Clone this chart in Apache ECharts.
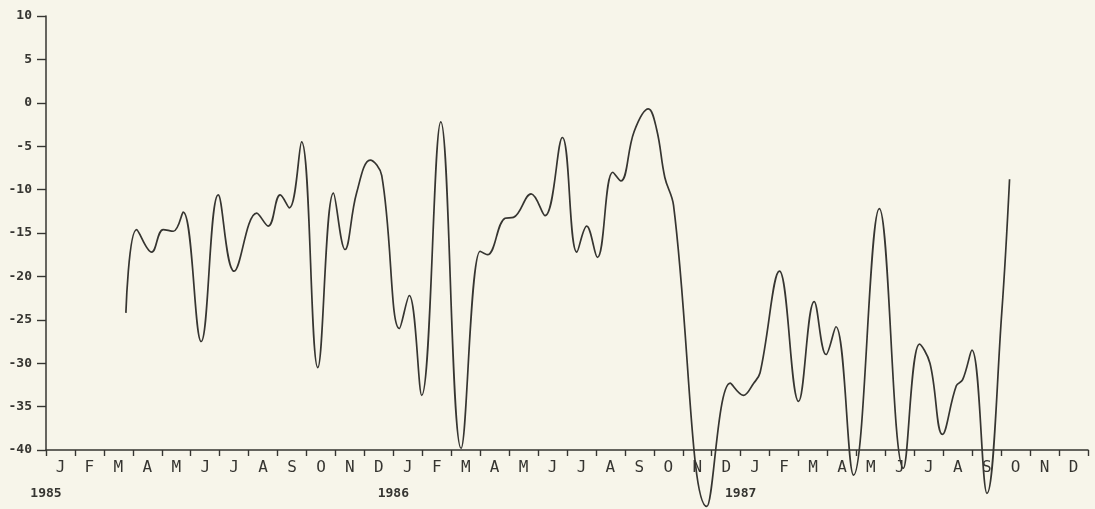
<!DOCTYPE html>
<html>
<head>
<meta charset="utf-8">
<script src="https://cdn.jsdelivr.net/npm/echarts@6/dist/echarts.min.js"></script>
<style>
html,body{margin:0;padding:0;background:#f7f5ea;}
#chart{width:1095px;height:509px;}
</style>
</head>
<body>
<div id="chart"></div>
<script>
// Month letters (one per month, Jan 1985 .. Dec 1987)
const monthLetters = ['J','F','M','A','M','J','J','A','S','O','N','D'];
const yearLabels = ['1985', '1986', '1987'];
const yTickValues = [-40, -35, -30, -25, -20, -15, -10, -5, 0, 5, 10];

// Curve points: time position in months since Jan 1985, and value
const monthPos = [
  2.76, 3.13, 3.65, 4.05, 4.40, 4.74, 5.36, 5.95, 6.50, 7.28,
  7.68, 8.09, 8.41, 8.83, 9.39, 9.93, 10.33, 10.73, 11.20, 11.60,
  12.21, 12.55, 12.98, 13.64, 14.34, 15.00, 15.25, 15.86, 16.15, 16.76,
  17.24, 17.84, 18.34, 18.68, 19.05, 19.58, 19.86, 20.32, 20.81, 21.10,
  21.38, 21.68, 22.83, 23.64, 24.09, 24.45, 24.67, 25.34, 26.00, 26.54,
  26.95, 27.29, 27.90, 28.79, 29.62, 30.18, 30.54, 30.97, 31.45, 31.67,
  31.99, 32.51, 33.02, 33.29
];
const indexValues = [
  -24.2, -14.6, -17.2, -14.6, -14.8, -12.6, -27.5, -10.6, -19.4, -12.7,
  -14.2, -10.6, -12.1, -4.5, -30.5, -10.4, -16.9, -10.4, -6.6, -8.4,
  -26.0, -22.2, -33.7, -2.2, -39.8, -17.1, -17.5, -13.3, -13.2, -10.5,
  -13.0, -4.0, -17.2, -14.2, -17.8, -8.0, -9.0, -3.3, -0.7, -3.1,
  -8.6, -11.8, -46.5, -32.3, -33.7, -32.3, -31.1, -19.4, -34.4, -22.9,
  -29.0, -25.8, -42.9, -12.2, -42.1, -27.8, -30.0, -38.2, -32.6, -31.9,
  -28.5, -45.0, -24.2, -8.8
];

const categories = [];
for (let y = 0; y < yearLabels.length; y++) {
  for (let m = 0; m < monthLetters.length; m++) categories.push(monthLetters[m]);
}
const seriesData = monthPos.map((p, i) => [p, indexValues[i]]);

const ink = '#363531';
const font = 'DejaVu Sans Mono';

const chart = echarts.init(document.getElementById('chart'), null, {renderer: 'canvas'});
chart.setOption({
  backgroundColor: '#f7f5ea',
  animation: false,
  grid: {left: 46, right: 7, top: 16, bottom: 59, containLabel: false},
  xAxis: [
    {type: 'value', min: 0, max: 36, show: false},
    {
      type: 'category', data: categories, boundaryGap: true, position: 'bottom',
      axisLine: {show: true, lineStyle: {color: ink, width: 1.5}},
      axisTick: {show: true, interval: 0, length: 6, lineStyle: {color: ink, width: 1.4}},
      axisLabel: {interval: 0, margin: 10, fontSize: 16, fontFamily: font, color: ink},
      splitLine: {show: false}
    },
    {
      type: 'value', min: 0, max: 36, interval: 12, position: 'bottom', offset: 37,
      axisLine: {show: false}, axisTick: {show: false}, splitLine: {show: false},
      axisLabel: {
        margin: 0, fontSize: 13, fontWeight: 'bold', fontFamily: font, color: ink,
        showMinLabel: true, showMaxLabel: true,
        formatter: v => yearLabels[v / 12] || ''
      }
    }
  ],
  yAxis: {
    type: 'value', min: yTickValues[0], max: yTickValues[yTickValues.length - 1], interval: 5,
    axisLine: {show: true, lineStyle: {color: ink, width: 1.5}},
    axisTick: {show: true, length: 9, lineStyle: {color: ink, width: 1.4}},
    axisLabel: {margin: 14, fontSize: 13, fontWeight: 'bold', fontFamily: font, color: ink},
    splitLine: {show: false}
  },
  series: [{
    type: 'line', xAxisIndex: 0, yAxisIndex: 0,
    data: seriesData, smooth: 0.4, showSymbol: false, clip: false,
    lineStyle: {color: ink, width: 1.7}
  }]
});
</script>
</body>
</html>
